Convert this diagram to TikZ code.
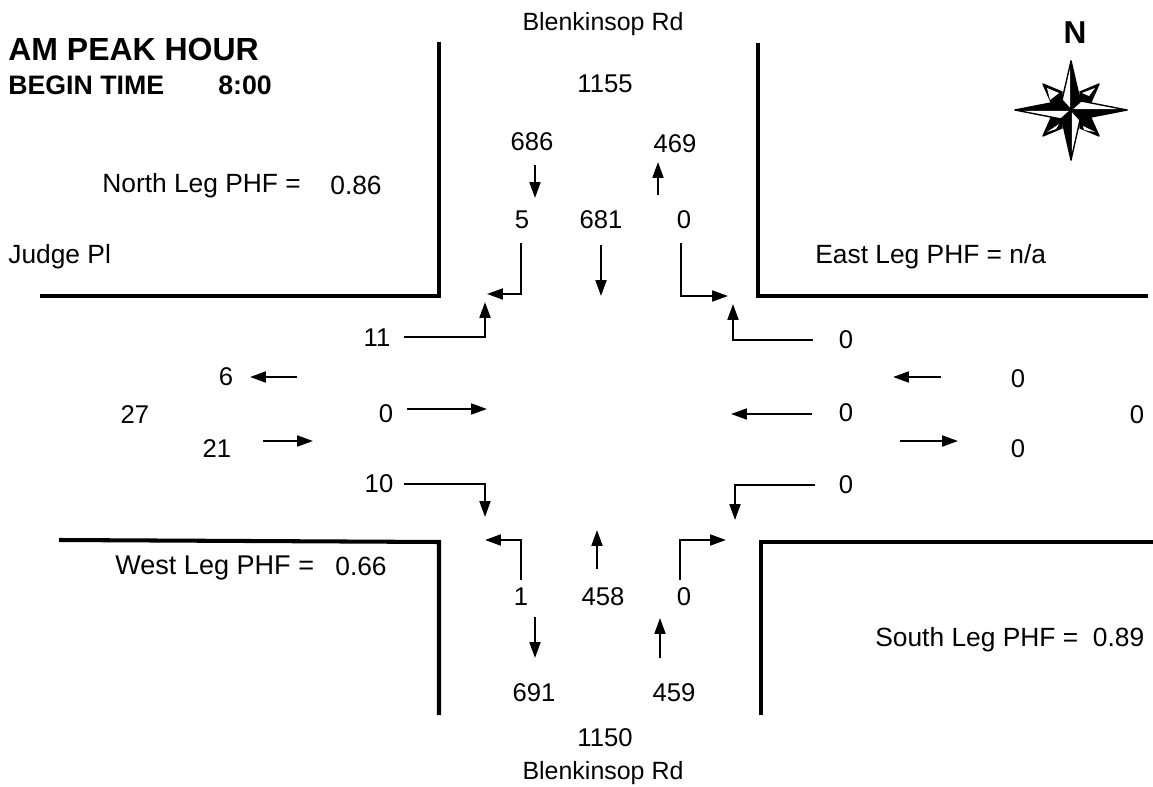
\documentclass[tikz,border=0pt]{standalone}
\usepackage{fontspec}
\setmainfont{Liberation Sans}
\usepackage{tikz}
\usetikzlibrary{arrows.meta}

\begin{document}
\begin{tikzpicture}[x=0.02cm,y=-0.02cm,>={Triangle[length=9pt,width=6.2pt]},
	lbl/.style={inner sep=0pt,font=\fontsize{14.6}{16}\selectfont},
	street/.style={lbl,font=\fontsize{14.2}{16}\selectfont},
	leftlbl/.style={lbl,anchor=west,font=\fontsize{15}{17}\selectfont},
	road/.style={line width=2.3pt,line join=miter},
	move/.style={->,line width=1.1pt},
	ptblack/.style={fill=black,draw=black,line width=0.8pt,line join=round},
	ptwhite/.style={fill=white,draw=black,line width=0.8pt,line join=round},
	ptinner/.style={fill=white,draw=none}]

	\useasboundingbox (0,0) rectangle (1153,787);

	% titles and street names
	\node[leftlbl,font=\fontsize{18.2}{20}\selectfont\bfseries] (title) at (8,49) {AM PEAK HOUR};
	\node[leftlbl,font=\fontsize{15.2}{17}\selectfont\bfseries] (begin) at (8,85) {BEGIN TIME};
	\node[leftlbl,font=\fontsize{15.2}{17}\selectfont\bfseries] (time) at (218,85) {8:00};
	\node[street] (rdN) at (603,24) {Blenkinsop Rd};
	\node[street] (rdS) at (603,773) {Blenkinsop Rd};
	\node[leftlbl] (rdW) at (8,257) {Judge Pl};

	% peak hour factors
	\node[leftlbl] (phfN) at (102,186) {North Leg PHF =};
	\node[leftlbl] (phfNv) at (330,185) {0.86};
	\node[leftlbl] (phfE) at (815,257) {East Leg PHF = n/a};
	\node[leftlbl,font=\fontsize{15.4}{17}\selectfont] (phfW) at (115,568) {West Leg PHF =};
	\node[leftlbl] (phfWv) at (335,566) {0.66};
	\node[leftlbl] (phfS) at (875,640) {South Leg PHF =\ \ 0.89};

	% north leg volumes
	\node[lbl] (Ntot) at (605,84) {1155};
	\node[lbl] (Nin) at (532,142) {686};
	\node[lbl] (Nout) at (675,144) {469};
	\node[lbl] (NR) at (522,220) {5};
	\node[lbl] (NT) at (601,220) {681};
	\node[lbl] (NL) at (684,220) {0};

	% west leg volumes
	\node[lbl] (Wout) at (226,377) {6};
	\node[lbl] (Wtot) at (135,415) {27};
	\node[lbl] (Win) at (217,449) {21};
	\node[lbl] (WL) at (377,338) {11};
	\node[lbl] (WT) at (386,414) {0};
	\node[lbl] (WR) at (379,484) {10};

	% east leg volumes
	\node[lbl] (ER) at (846,340) {0};
	\node[lbl] (ET) at (846,413) {0};
	\node[lbl] (EL) at (846,485) {0};
	\node[lbl] (Ein) at (1018,379) {0};
	\node[lbl] (Eout) at (1018,449) {0};
	\node[lbl] (Etot) at (1137,415) {0};

	% south leg volumes
	\node[lbl] (SL) at (521,597) {1};
	\node[lbl] (ST) at (603,597) {458};
	\node[lbl] (SR) at (684,597) {0};
	\node[lbl] (Sout) at (534,693) {691};
	\node[lbl] (Sin) at (674,693) {459};
	\node[lbl] (Stot) at (605,738) {1150};

	% road edges
	\coordinate (nwA) at (439,42);
	\coordinate (nwB) at (439,296);
	\coordinate (nwC) at (40,296);
	\coordinate (neA) at (758,43);
	\coordinate (neB) at (758,296);
	\coordinate (neC) at (1148,296);
	\coordinate (swA) at (59,540);
	\coordinate (swB) at (439,542);
	\coordinate (swC) at (439,715);
	\coordinate (seA) at (1153,542);
	\coordinate (seB) at (761,542);
	\coordinate (seC) at (761,715);
	\draw[road] (nwA) -- (nwB) -- (nwC);
	\draw[road] (neA) -- (neB) -- (neC);
	\draw[road] (swA) -- (swB) -- (swC);
	\draw[road] (seA) -- (seB) -- (seC);

	% arrow ends
	\coordinate (a1) at (535,165);   \coordinate (a2) at (535,198);
	\coordinate (b1) at (658,195);   \coordinate (b2) at (658,162);
	\coordinate (c1) at (521,243);   \coordinate (c2) at (521,294);   \coordinate (c3) at (487,294);
	\coordinate (d1) at (601,245);   \coordinate (d2) at (601,296);
	\coordinate (e1) at (681,243);   \coordinate (e2) at (681,296);   \coordinate (e3) at (728,296);
	\coordinate (f1) at (404,337);   \coordinate (f2) at (485,337);   \coordinate (f3) at (485,302);
	\coordinate (g1) at (813,340);   \coordinate (g2) at (733,340);   \coordinate (g3) at (733,304);
	\coordinate (h1) at (297,377);   \coordinate (h2) at (250,377);
	\coordinate (i1) at (407,409);   \coordinate (i2) at (487,409);
	\coordinate (j1) at (263,441);   \coordinate (j2) at (313,441);
	\coordinate (k1) at (404,484);   \coordinate (k2) at (485,484);   \coordinate (k3) at (485,517);
	\coordinate (l1) at (815,485);   \coordinate (l2) at (735,485);   \coordinate (l3) at (735,520);
	\coordinate (m1) at (812,414);   \coordinate (m2) at (731,414);
	\coordinate (n1) at (941,377);   \coordinate (n2) at (893,377);
	\coordinate (o1) at (900,441);   \coordinate (o2) at (958,441);
	\coordinate (p1) at (521,580);   \coordinate (p2) at (521,540);   \coordinate (p3) at (485,540);
	\coordinate (q1) at (597,569);   \coordinate (q2) at (597,530);
	\coordinate (r1) at (680,580);   \coordinate (r2) at (680,540);   \coordinate (r3) at (726,540);
	\coordinate (s1) at (535,617);   \coordinate (s2) at (535,658);
	\coordinate (t1) at (660,658);   \coordinate (t2) at (660,618);

	\draw[move] (a1) -- (a2);
	\draw[move] (b1) -- (b2);
	\draw[move] (c1) -- (c2) -- (c3);
	\draw[move] (d1) -- (d2);
	\draw[move] (e1) -- (e2) -- (e3);
	\draw[move] (f1) -- (f2) -- (f3);
	\draw[move] (g1) -- (g2) -- (g3);
	\draw[move] (h1) -- (h2);
	\draw[move] (i1) -- (i2);
	\draw[move] (j1) -- (j2);
	\draw[move] (k1) -- (k2) -- (k3);
	\draw[move] (l1) -- (l2) -- (l3);
	\draw[move] (m1) -- (m2);
	\draw[move] (n1) -- (n2);
	\draw[move] (o1) -- (o2);
	\draw[move] (p1) -- (p2) -- (p3);
	\draw[move] (q1) -- (q2);
	\draw[move] (r1) -- (r2) -- (r3);
	\draw[move] (s1) -- (s2);
	\draw[move] (t1) -- (t2);

	% north arrow
	\node[lbl,font=\fontsize{18}{20}\selectfont\bfseries] (north) at (1075,33) {N};
	\begin{scope}[shift={(1071,110)}]
		\draw[ptblack] (-28,-26) -- (-9,-18) -- (-9,-9) -- (-20,-8) -- cycle;
		\draw[ptblack] (28,-26) -- (9,-18) -- (9,-9) -- (20,-8) -- cycle;
		\draw[ptblack] (28,26) -- (20,8) -- (9,9) -- (9,18) -- cycle;
		\draw[ptblack] (-28,26) -- (-20,8) -- (-9,9) -- (-9,18) -- cycle;
		\fill[ptinner] (-24,-22) -- (-12,-17) -- (-21,-10) -- cycle;
		\fill[ptinner] (24,-22) -- (11,-17) -- (18,-14) -- cycle;
		\fill[ptinner] (24,22) -- (12,16) -- (13,20) -- cycle;
		\fill[ptinner] (-24,22) -- (-12,14) -- (-15,19) -- cycle;
		\draw[ptwhite] (0,-49) -- (-9,-10) -- (0,0) -- cycle;
		\draw[ptblack] (0,-49) -- (9,-10) -- (0,0) -- cycle;
		\draw[ptwhite] (56,0) -- (10,-9) -- (0,0) -- cycle;
		\draw[ptblack] (56,0) -- (10,9) -- (0,0) -- cycle;
		\draw[ptwhite] (0,50) -- (9,10) -- (0,0) -- cycle;
		\draw[ptblack] (0,50) -- (-9,10) -- (0,0) -- cycle;
		\draw[ptwhite] (-56,0) -- (-10,9) -- (0,0) -- cycle;
		\draw[ptblack] (-56,0) -- (-10,-9) -- (0,0) -- cycle;
	\end{scope}
\end{tikzpicture}
\end{document}
